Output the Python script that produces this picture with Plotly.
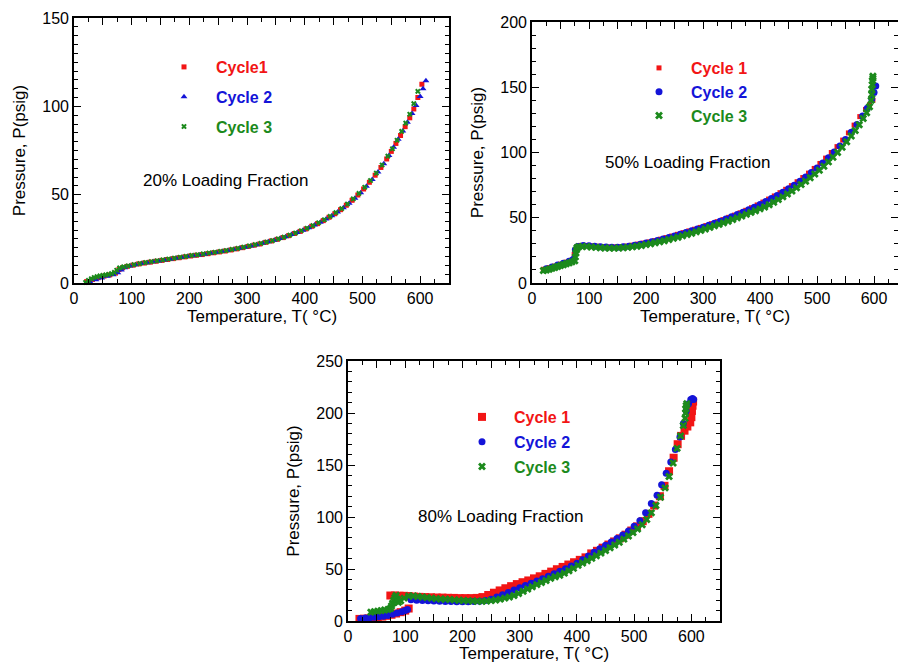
import plotly.graph_objects as go

# ---------------- 20% loading fraction ----------------
t20_c1 = [22, 32, 42, 52, 62, 72, 78, 84, 92, 102, 112, 122, 132, 142, 152, 162, 172, 182, 192, 202,
          212, 222, 232, 242, 252, 262, 272, 282, 292, 302, 312, 322, 332, 342, 352, 362, 372, 382, 392, 402,
          412, 422, 432, 442, 452, 462, 472, 482, 492, 502, 512, 522, 532, 542, 550, 558, 566, 574, 582, 589,
          596, 603]
p20_c1 = [0.8, 2.0, 3.0, 3.9, 4.6, 5.6, 7.6, 8.6, 9.4, 10.1, 10.8, 11.3, 11.8, 12.3, 12.8, 13.3, 13.8, 14.3, 14.8, 15.3,
          15.7, 16.1, 16.6, 17.1, 17.6, 18.1, 18.7, 19.3, 20.0, 20.7, 21.4, 22.1, 23.0, 23.8, 24.7, 25.7, 26.8, 28.0, 29.2, 30.6,
          32.1, 33.6, 35.3, 37.2, 39.2, 41.5, 44.0, 46.8, 49.8, 53.2, 57.0, 61.0, 65.4, 70.2, 74.5, 79.0, 83.5, 88.5, 93.5, 98.5,
          105.0, 112.5]
t20_c2 = [28, 38, 48, 58, 68, 76, 82, 88, 97, 107, 117, 127, 137, 147, 157, 167, 177, 187, 197, 207,
          217, 227, 237, 247, 257, 267, 277, 287, 297, 307, 317, 327, 337, 347, 357, 367, 377, 387, 397, 407,
          417, 427, 437, 447, 457, 467, 477, 487, 497, 507, 517, 527, 537, 546, 554, 562, 570, 578, 586, 593,
          600, 605, 610]
p20_c2 = [0.6, 1.8, 2.9, 3.8, 4.6, 5.8, 7.4, 8.6, 9.6, 10.4, 11.0, 11.5, 12.0, 12.5, 13.0, 13.5, 14.0, 14.5, 15.0, 15.4,
          15.8, 16.3, 16.8, 17.3, 17.8, 18.4, 19.0, 19.6, 20.3, 21.0, 21.7, 22.5, 23.3, 24.2, 25.2, 26.2, 27.4, 28.6, 29.9, 31.3,
          32.8, 34.4, 36.2, 38.1, 40.2, 42.6, 45.2, 48.0, 51.1, 54.7, 58.6, 62.8, 67.5, 72.2, 76.8, 81.3, 86.0, 91.0, 96.0, 100.5,
          105.5, 110.0, 114.5]
t20_c3 = [20, 25, 30, 35, 40, 45, 50, 55, 60, 65, 70, 74, 79, 86, 94, 104, 114, 124, 134, 144,
          154, 164, 174, 184, 194, 204, 214, 224, 234, 244, 254, 264, 274, 284, 294, 304, 314, 324, 334, 344,
          354, 364, 374, 384, 394, 404, 414, 424, 434, 444, 454, 464, 474, 484, 494, 504, 514, 524, 534, 544,
          552, 560, 568, 575, 582, 589, 596]
p20_c3 = [0.3, 1.5, 2.4, 3.1, 3.6, 4.0, 4.3, 4.6, 4.9, 5.3, 6.0, 7.2, 8.6, 9.2, 9.7, 10.4, 11.0, 11.6, 12.1, 12.6,
          13.1, 13.6, 14.1, 14.6, 15.1, 15.6, 16.0, 16.5, 17.0, 17.4, 17.9, 18.4, 19.0, 19.6, 20.3, 21.0, 21.7, 22.4, 23.2, 24.0,
          25.0, 26.0, 27.1, 28.3, 29.6, 31.0, 32.5, 34.1, 35.8, 37.7, 39.8, 42.1, 44.7, 47.6, 50.7, 54.2, 58.0, 62.2, 66.8, 71.8,
          76.0, 80.8, 85.8, 90.5, 95.5, 101.5, 108.5]

# ---------------- 50% loading fraction ----------------
t50_c1 = [20, 30, 40, 50, 60, 70, 74, 78, 85, 95, 105, 115, 125, 135, 145, 155, 165, 175, 185, 195,
          205, 215, 225, 235, 245, 255, 265, 275, 285, 295, 305, 315, 325, 335, 345, 355, 365, 375, 385, 395,
          405, 415, 425, 435, 445, 455, 465, 475, 485, 495, 505, 515, 525, 535, 545, 555, 565, 575, 585, 592,
          598]
p50_c1 = [10.5, 11.8, 13.0, 14.5, 16.0, 17.5, 22.0, 27.5, 28.8, 28.8, 28.5, 28.2, 27.9, 27.7, 27.7, 27.8, 28.3, 29.0, 29.8, 30.6,
          31.5, 32.5, 33.6, 34.8, 36.0, 37.3, 38.6, 39.9, 41.2, 42.6, 44.0, 45.5, 47.0, 48.6, 50.3, 52.0, 53.8, 55.7, 57.7, 59.8,
          62.0, 64.3, 66.7, 69.2, 71.8, 74.6, 77.6, 80.8, 84.2, 87.8, 91.6, 95.7, 100.0, 104.5, 109.5, 115.0, 121.0, 127.5, 133.0, 136.5,
          140.0]
t50_c2 = [25, 35, 45, 55, 65, 72, 76, 80, 90, 100, 110, 120, 130, 140, 150, 160, 170, 180, 190, 200,
          210, 220, 230, 240, 250, 260, 270, 280, 290, 300, 310, 320, 330, 340, 350, 360, 370, 380, 390, 400,
          410, 420, 430, 440, 450, 460, 470, 480, 490, 500, 510, 520, 530, 540, 550, 560, 570, 580, 588, 596,
          600, 603]
p50_c2 = [11.0, 12.3, 13.7, 15.2, 16.7, 18.0, 25.5, 28.0, 28.8, 28.6, 28.2, 27.8, 27.5, 27.3, 27.4, 27.7, 28.2, 28.9, 29.7, 30.6,
          31.6, 32.6, 33.7, 34.9, 36.1, 37.4, 38.7, 40.0, 41.4, 42.8, 44.3, 45.8, 47.4, 49.0, 50.7, 52.4, 54.2, 56.1, 58.1, 60.2,
          62.4, 64.7, 67.1, 69.6, 72.2, 75.0, 78.0, 81.2, 84.6, 88.2, 92.0, 96.0, 100.3, 105.0, 110.0, 115.5, 121.5, 128.0, 134.0, 141.0,
          146.0, 151.0]
t50_c3 = [20, 25, 30, 35, 40, 45, 50, 55, 60, 65, 70, 75, 76, 77, 78, 79, 82, 88, 96, 104,
          112, 120, 128, 136, 144, 152, 160, 168, 176, 184, 192, 200, 208, 216, 224, 232, 240, 248, 256, 264,
          272, 280, 288, 296, 304, 312, 320, 328, 336, 344, 352, 360, 368, 376, 384, 392, 400, 408, 416, 424,
          432, 440, 448, 456, 464, 472, 480, 488, 496, 504, 512, 520, 528, 536, 544, 552, 560, 567, 574, 581,
          587, 592, 595, 596, 596, 597, 597, 598, 598]
p50_c3 = [9.5, 10.0, 10.6, 11.2, 11.9, 12.6, 13.3, 14.0, 14.7, 15.4, 16.2, 17.0, 20.0, 23.0, 25.5, 27.0, 27.8, 28.0, 27.9, 27.6,
          27.3, 27.0, 26.8, 26.7, 26.7, 26.8, 27.0, 27.3, 27.7, 28.2, 28.8, 29.4, 30.1, 30.8, 31.6, 32.4, 33.3, 34.2, 35.1, 36.1,
          37.1, 38.1, 39.2, 40.3, 41.4, 42.6, 43.8, 44.9, 46.1, 47.3, 48.6, 49.9, 51.3, 52.7, 54.1, 55.4, 56.8, 58.2, 60.0, 61.9,
          63.9, 66.0, 68.2, 70.5, 72.9, 75.4, 78.0, 80.7, 83.5, 86.4, 89.5, 92.8, 96.3, 100.0, 104.0, 108.2, 112.6, 116.8, 121.2, 126.0,
          130.5, 135.0, 140.0, 144.5, 148.5, 152.0, 155.0, 157.0, 158.5]

# ---------------- 80% loading fraction ----------------
t80_c1 = [20, 28, 36, 44, 52, 60, 68, 76, 84, 92, 100, 106, 74, 82, 90, 98, 106, 115, 125, 135,
          145, 155, 165, 175, 185, 195, 205, 215, 225, 235, 245, 255, 265, 275, 285, 295, 305, 315, 325, 335,
          345, 355, 365, 375, 385, 395, 405, 415, 425, 435, 445, 455, 465, 475, 485, 495, 505, 515, 525, 535,
          545, 553, 561, 569, 576, 582, 588, 593, 598, 600, 601, 602, 603]
p80_c1 = [2.0, 2.2, 2.5, 3.0, 3.5, 4.2, 5.0, 6.0, 7.2, 8.5, 10.0, 12.0, 24.5, 24.5, 24.3, 24.2, 24.0, 23.5, 23.2, 23.0,
          22.8, 22.6, 22.5, 22.3, 22.2, 22.0, 22.0, 22.0, 22.2, 23.0, 25.0, 27.2, 29.4, 31.5, 33.5, 35.5, 37.3, 39.0, 41.0, 43.0,
          45.3, 47.5, 49.8, 52.0, 54.3, 56.5, 58.8, 61.2, 65.0, 67.5, 70.5, 73.5, 76.5, 79.5, 83.0, 87.0, 91.0, 96.0, 103.0, 111.0,
          120.0, 130.0, 144.0, 157.0, 170.0, 178.0, 183.0, 187.0, 191.0, 196.0, 202.0, 207.0, 211.0]
t80_c2 = [22, 30, 38, 46, 54, 62, 70, 78, 86, 94, 100, 104, 110, 120, 130, 140, 150, 160, 170, 180,
          190, 200, 210, 220, 230, 240, 250, 260, 270, 280, 290, 300, 310, 320, 330, 340, 350, 360, 370, 380,
          390, 400, 410, 420, 430, 440, 450, 460, 470, 480, 490, 500, 510, 520, 530, 540, 548, 556, 564, 572,
          580, 586, 591, 595, 599, 602, 604]
p80_c2 = [2.5, 2.8, 3.2, 3.6, 4.0, 4.6, 5.4, 6.4, 7.6, 8.8, 10.0, 11.0, 20.5, 20.0, 19.7, 19.4, 19.2, 19.0, 18.8, 18.7,
          18.6, 18.6, 18.6, 18.7, 19.0, 19.6, 21.0, 23.0, 25.2, 27.5, 29.8, 32.0, 34.2, 36.3, 38.5, 40.7, 43.0, 45.4, 47.8, 50.3,
          52.9, 55.5, 58.8, 62.5, 66.0, 69.5, 72.8, 76.0, 79.3, 82.8, 86.5, 91.0, 96.5, 104.0, 113.0, 121.0, 131.0, 142.0, 153.0, 165.0,
          177.0, 190.0, 202.0, 209.0, 213.0, 214.0, 213.0]
t80_c3 = [40, 46, 52, 58, 64, 70, 74, 76, 78, 80, 82, 84, 86, 88, 92, 98, 106, 114, 122, 130,
          138, 146, 154, 162, 170, 178, 186, 194, 202, 210, 218, 226, 234, 242, 250, 258, 266, 274, 282, 290,
          298, 306, 314, 322, 330, 338, 346, 354, 362, 370, 378, 386, 394, 402, 410, 418, 426, 434, 442, 450,
          458, 466, 474, 482, 490, 498, 506, 514, 522, 530, 538, 546, 554, 561, 568, 575, 581, 586, 589, 590,
          590, 591, 592]
p80_c3 = [8.5, 9.0, 9.5, 10.0, 10.5, 11.0, 12.0, 14.5, 17.0, 20.0, 22.5, 24.5, 21.0, 18.0, 19.5, 22.0, 24.0, 24.0, 23.5, 23.0,
          22.5, 22.0, 21.5, 21.2, 20.9, 20.6, 20.3, 20.0, 19.7, 19.4, 19.2, 19.0, 19.0, 19.2, 19.6, 20.2, 21.0, 22.0, 23.0, 24.5,
          26.5, 28.6, 30.8, 33.0, 35.0, 37.0, 39.0, 41.0, 42.5, 44.0, 46.0, 48.3, 50.6, 53.5, 55.7, 58.0, 60.4, 62.8, 65.3, 67.8,
          70.4, 73.0, 75.8, 78.7, 81.8, 85.0, 88.5, 92.5, 97.5, 104.0, 111.0, 119.0, 128.0, 139.0, 152.0, 166.0, 178.0, 188.0, 195.0, 200.0,
          204.0, 207.0, 209.0]

cycle_names = ["Cycle1", "Cycle 2", "Cycle 3"]
cycle_names_b = ["Cycle 1", "Cycle 2", "Cycle 3"]
panel_labels = ["20% Loading Fraction", "50% Loading Fraction", "80% Loading Fraction"]
x_title = "Temperature, T( °C)"
y_title = "Pressure, P(psig)"

RED, BLUE, GREEN = "#f21515", "#1414d8", "#1c8a1c"
FONT = "Liberation Sans, Arial, sans-serif"

fig = go.Figure()


def add_cycle(t, p, name, color, symbol, size, axis, legend):
    fig.add_trace(go.Scatter(
        x=t, y=p, mode="markers", cliponaxis=False,
        name=f"<b><span style='color:{color}'>{name}</span></b>",
        legendgroup=f"{legend}-{name}", legend=legend,
        marker=dict(color=color, symbol=symbol, size=size, line=dict(width=0)),
        xaxis="x" + axis, yaxis="y" + axis,
    ))


add_cycle(t20_c1, p20_c1, cycle_names[0], RED, "square", 5, "", "legend")
add_cycle(t20_c2, p20_c2, cycle_names[1], BLUE, "triangle-up", 6, "", "legend")
add_cycle(t20_c3, p20_c3, cycle_names[2], GREEN, "x", 5, "", "legend")

add_cycle(t50_c1, p50_c1, cycle_names_b[0], RED, "square", 5, "2", "legend2")
add_cycle(t50_c2, p50_c2, cycle_names_b[1], BLUE, "circle", 7, "2", "legend2")
add_cycle(t50_c3, p50_c3, cycle_names_b[2], GREEN, "x", 7, "2", "legend2")

add_cycle(t80_c1, p80_c1, cycle_names_b[0], RED, "square", 8, "3", "legend3")
add_cycle(t80_c2, p80_c2, cycle_names_b[1], BLUE, "circle", 7, "3", "legend3")
add_cycle(t80_c3, p80_c3, cycle_names_b[2], GREEN, "x", 7, "3", "legend3")

W, H = 898, 665


def xdom(a, b):
    return [a / W, b / W]


def ydom(top, bottom):
    return [1 - bottom / H, 1 - top / H]


def xaxis(dom, rng, anchor):
    return dict(
        domain=dom, range=rng, anchor=anchor, automargin=False,
        dtick=50, tick0=0, ticklabelstep=2,
        ticks="inside", ticklen=7, tickwidth=1.4, tickcolor="black",
        minor=dict(dtick=25, tick0=0, ticks="inside", ticklen=4, tickwidth=1.4, tickcolor="black"),
        showline=True, linecolor="black", linewidth=1.6, mirror="ticks",
        showgrid=False, zeroline=False,
        tickfont=dict(family=FONT, size=16, color="black"),
    )


def yaxis(dom, rng, minor_step, anchor):
    return dict(
        domain=dom, range=rng, anchor=anchor, automargin=False,
        dtick=50, tick0=0,
        ticks="inside", ticklen=7, tickwidth=1.4, tickcolor="black",
        minor=dict(dtick=minor_step, tick0=0, ticks="inside", ticklen=4, tickwidth=1.4, tickcolor="black"),
        showline=True, linecolor="black", linewidth=1.6, mirror="ticks",
        showgrid=False, zeroline=False,
        tickfont=dict(family=FONT, size=16, color="black"),
        title=dict(text=y_title, font=dict(family=FONT, size=17, color="black"), standoff=12),
    )


def legend_box(x, y, gap):
    return dict(x=x, y=y, xanchor="left", yanchor="top", bgcolor="rgba(0,0,0,0)",
                traceorder="grouped", tracegroupgap=gap, itemwidth=54,
                font=dict(family=FONT, size=16, color="black"))


annotations = []
for text, ax, ay in zip(panel_labels, [0.2506, 0.7661, 0.5579], [0.7293, 0.7549, 0.2226]):
    annotations.append(dict(text=text, x=ax, y=ay, xref="paper", yref="paper", showarrow=False,
                            xanchor="center", yanchor="middle",
                            font=dict(family=FONT, size=17, color="black")))

# temperature titles centred under each panel
for xref, ty in zip(["x domain", "x2 domain", "x3 domain"], [316, 316, 653]):
    annotations.append(dict(text=x_title, x=0.5, y=1 - ty / H, xref=xref, yref="paper",
                            showarrow=False, xanchor="center", yanchor="middle",
                            font=dict(family=FONT, size=17, color="black")))

fig.update_layout(
    width=W, height=H, template="none",
    margin=dict(l=0, r=0, t=0, b=0),
    paper_bgcolor="white", plot_bgcolor="white",
    xaxis=xaxis(xdom(74, 449), [0, 650], "y"),
    yaxis=yaxis(ydom(18, 283), [0, 150], 5, "x"),
    xaxis2=xaxis(xdom(532, 898), [0, 642], "y2"),
    yaxis2=yaxis(ydom(22, 283), [0, 200], 10, "x2"),
    xaxis3=xaxis(xdom(348, 720), [0, 650], "y3"),
    yaxis3=yaxis(ydom(361, 621), [0, 250], 10, "x3"),
    legend=legend_box(152 / W, 1 - 50 / H, 6),
    legend2=legend_box(627 / W, 1 - 51 / H, 0),
    legend3=legend_box(450 / W, 1 - 400 / H, 1),
    annotations=annotations,
    showlegend=True,
)

fig.write_html("out.html")
